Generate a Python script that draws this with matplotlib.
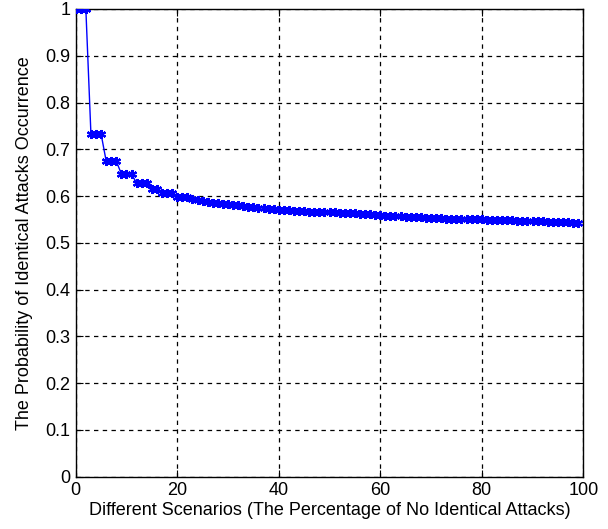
import numpy as np
import matplotlib.pyplot as plt

plt.rcParams['font.family'] = ['Liberation Sans', 'DejaVu Sans']

# scenario index (percentage of no identical attacks)
scenarios = list(range(0, 100))

# probability of identical attacks occurrence
prob = [
    1.000, 1.000, 1.000,
    0.733, 0.733, 0.733,
    0.675, 0.675, 0.675,
    0.647, 0.647, 0.647,
    0.628, 0.628, 0.628,
    0.615, 0.615,
    0.607, 0.607, 0.607,
    0.598, 0.597, 0.597, 0.593, 0.591, 0.590, 0.587, 0.586, 0.585, 0.584,
    0.582, 0.581, 0.580, 0.578, 0.577, 0.576, 0.575, 0.575, 0.573, 0.572,
    0.571, 0.570, 0.570, 0.569, 0.568, 0.568, 0.567, 0.567, 0.566, 0.566,
    0.565, 0.565, 0.564, 0.564, 0.563, 0.563, 0.562, 0.562, 0.561, 0.560,
    0.559, 0.558, 0.558, 0.557, 0.557, 0.556, 0.556, 0.555, 0.555, 0.554,
    0.554, 0.553, 0.553, 0.552, 0.552, 0.551, 0.551, 0.551, 0.550, 0.550,
    0.550, 0.549, 0.549, 0.549, 0.548, 0.548, 0.548, 0.547, 0.547, 0.547,
    0.546, 0.546, 0.546, 0.545, 0.545, 0.545, 0.544, 0.544, 0.543, 0.543,
]

xticks = [0, 20, 40, 60, 80, 100]
yticks = [0, 0.1, 0.2, 0.3, 0.4, 0.5, 0.6, 0.7, 0.8, 0.9, 1]
ytick_labels = ['0', '0.1', '0.2', '0.3', '0.4', '0.5', '0.6', '0.7', '0.8', '0.9', '1']

fig = plt.figure(figsize=(6.08, 5.29), dpi=100)
ax = fig.add_axes([0.1245, 0.0989, 0.8349, 0.8841])

ax.plot(scenarios, prob, '-', color=(0, 0, 1), linewidth=1.0,
        marker=(6, 2, 0), markersize=6.5, markeredgewidth=1.6, zorder=3)

ax.set_xlim(0, 100)
ax.set_ylim(0, 1)
ax.set_xticks(xticks)
ax.set_yticks(yticks)
ax.set_yticklabels(ytick_labels)

ax.grid(True, color='black', linestyle=(0, (3.5, 3.5)), linewidth=0.9)
ax.tick_params(direction='in', length=5, width=0.8, top=True, right=True,
               labelsize=13, pad=4, colors='black')
for s in ax.spines.values():
    s.set_linewidth(1.0)

ax.set_xlabel('Different Scenarios (The Percentage of No Identical Attacks)', fontsize=13, labelpad=2)
ax.set_ylabel('The Probability of Identical Attacks Occurrence', fontsize=13, labelpad=9)

fig.savefig('out.png', dpi=100)
